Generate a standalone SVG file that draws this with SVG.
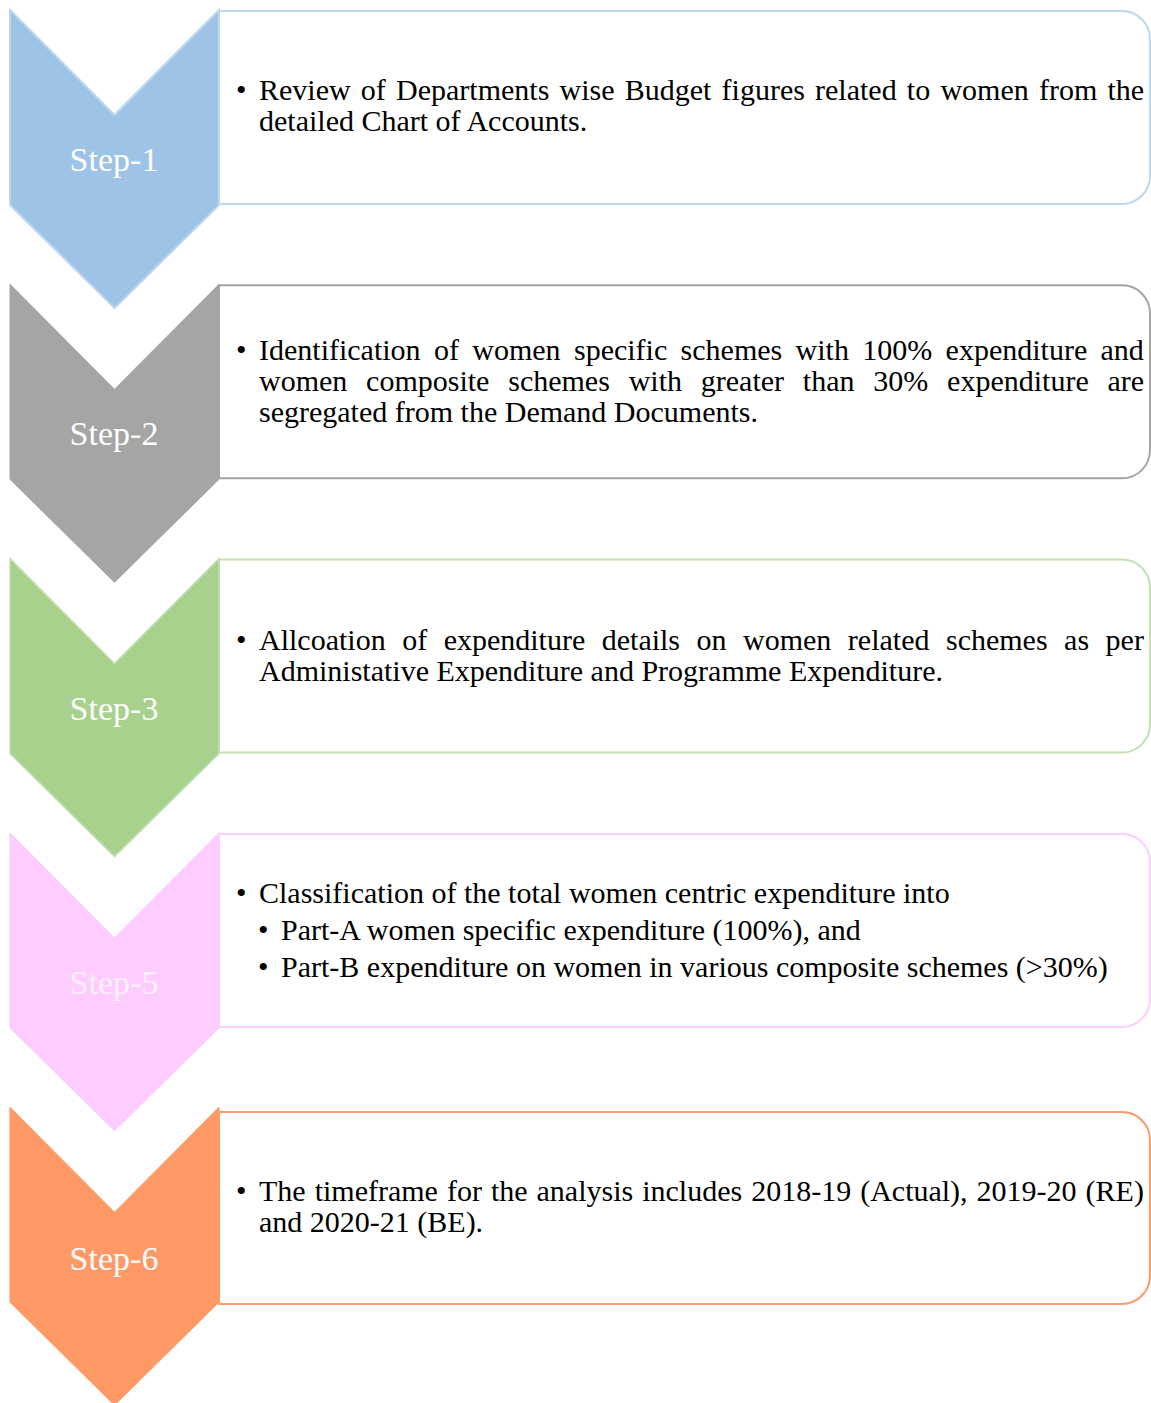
<svg xmlns="http://www.w3.org/2000/svg" width="1151" height="1403" viewBox="0 0 1151 1403">
<style>
.lbl{font-family:"Liberation Serif","Times New Roman",serif;font-size:34px;fill:#FFFFFF;text-anchor:middle}
.txt{font-family:"Liberation Serif","Times New Roman",serif;font-size:30px;fill:#000000}
.box{fill:#FFFFFF;stroke-width:2}
</style>
<rect x="0" y="0" width="1151" height="1403" fill="#FFFFFF"/>
<g id="step1">
<path class="box" stroke="#BDD7EE" d="M219,11 H1122 A28,28 0 0 1 1150,39 V176 A28,28 0 0 1 1122,204 H219 Z"/>
<polygon points="10,10 114.5,115 219,10 219,205 114.5,308 10,205" fill="#9DC3E6" stroke="#BDD7EE" stroke-width="2"/>
<text class="lbl" x="114" y="171">Step-1</text>
<text class="txt" x="236" y="100">•</text>
<text class="txt" x="259" y="100" word-spacing="2.7">Review of Departments wise Budget figures related to women from the</text>
<text class="txt" x="259" y="131">detailed Chart of Accounts.</text>
</g>
<g id="step2">
<path class="box" stroke="#A5A5A5" d="M219,285.3 H1122 A28,28 0 0 1 1150,313.3 V450.3 A28,28 0 0 1 1122,478.3 H219 Z"/>
<polygon points="10,284.3 114.5,389.3 219,284.3 219,479.3 114.5,582.3 10,479.3" fill="#A5A5A5" stroke="#A5A5A5" stroke-width="1"/>
<text class="lbl" x="114" y="445">Step-2</text>
<text class="txt" x="236" y="360">•</text>
<text class="txt" x="259" y="360" word-spacing="5.85">Identification of women specific schemes with 100% expenditure and</text>
<text class="txt" x="259" y="391" word-spacing="11.3">women composite schemes with greater than 30% expenditure are</text>
<text class="txt" x="259" y="422">segregated from the Demand Documents.</text>
</g>
<g id="step3">
<path class="box" stroke="#C5E0B4" d="M219,559.6 H1122 A28,28 0 0 1 1150,587.6 V724.6 A28,28 0 0 1 1122,752.6 H219 Z"/>
<polygon points="10,558.6 114.5,663.6 219,558.6 219,753.6 114.5,856.6 10,753.6" fill="#A9D18E" stroke="#C5E0B4" stroke-width="1.5"/>
<text class="lbl" x="114" y="720">Step-3</text>
<text class="txt" x="236" y="650">•</text>
<text class="txt" x="259" y="650" word-spacing="9">Allcoation of expenditure details on women related schemes as per</text>
<text class="txt" x="259" y="681">Administative Expenditure and Programme Expenditure.</text>
</g>
<g id="step5">
<path class="box" stroke="#FFCCFF" d="M219,833.9 H1122 A28,28 0 0 1 1150,861.9 V998.9 A28,28 0 0 1 1122,1026.9 H219 Z"/>
<polygon points="10,832.9 114.5,937.9 219,832.9 219,1027.9 114.5,1130.9 10,1027.9" fill="#FFCCFF" stroke="#FFCCFF" stroke-width="1"/>
<text class="lbl" x="114" y="994" style="fill:#FFF0FF">Step-5</text>
<text class="txt" x="236" y="903">•</text>
<text class="txt" x="259" y="903">Classification of the total women centric expenditure into</text>
<text class="txt" x="258" y="940">•</text>
<text class="txt" x="281" y="940">Part-A women specific expenditure (100%), and</text>
<text class="txt" x="258" y="977">•</text>
<text class="txt" x="281" y="977">Part-B expenditure on women in various composite schemes (&gt;30%)</text>
</g>
<g id="step6">
<path class="box" stroke="#FF9966" d="M219,1112 H1122 A28,28 0 0 1 1150,1140 V1276 A28,28 0 0 1 1122,1304 H219 Z"/>
<polygon points="10,1107.2 114.5,1212.2 219,1107.2 219,1302.2 114.5,1405.2 10,1302.2" fill="#FF9966" stroke="#FF9966" stroke-width="1"/>
<text class="lbl" x="114" y="1270">Step-6</text>
<text class="txt" x="236" y="1201">•</text>
<text class="txt" x="259" y="1201" word-spacing="1.5">The timeframe for the analysis includes 2018-19 (Actual), 2019-20 (RE)</text>
<text class="txt" x="259" y="1232">and 2020-21 (BE).</text>
</g>
<g id="connectors"></g>
</svg>
